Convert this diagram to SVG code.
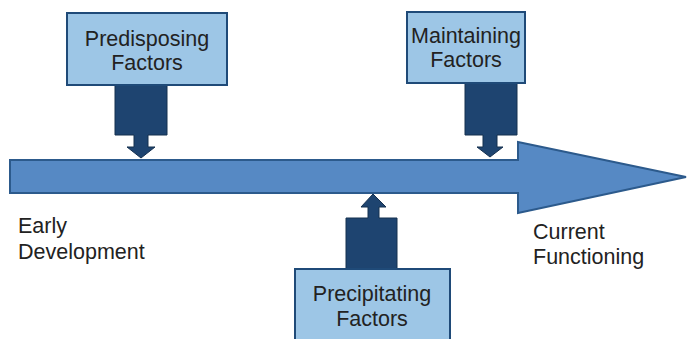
<svg xmlns="http://www.w3.org/2000/svg" width="687" height="339" viewBox="0 0 687 339">
<style>
.box{fill:#9DC6E6;stroke:#1F4A78;stroke-width:2}
.stem{fill:#1E4470;stroke:#15304F;stroke-width:1}
.big{fill:#5689C4;stroke:#2C5A8C;stroke-width:2}
text{font-family:"Liberation Sans",Arial,sans-serif;font-size:21.5px;fill:#222}
.c{text-anchor:middle}
</style>
<g id="timeline">
<polygon class="big" points="10,160 518,160 518,142 686,177 518,213 518,193 10,193"/>
</g>
<g id="connectors">
<polygon class="stem" points="115,85 167,85 167,135 148,135 148,147 155,147 141,158 127,147 134,147 134,135 115,135"/>
<polygon class="stem" points="465,83 517,83 517,135 497,135 497,147 503,147 490,157 477,147 483,147 483,135 465,135"/>
<polygon class="stem" points="346,269 397,269 397,218 379,218 379,207 386,207 373,194 361,207 368,207 368,218 346,218"/>
</g>
<g id="predisposing">
<rect class="box" x="67" y="13" width="160" height="72"/>
<text class="c" x="147" y="46">Predisposing</text>
<text class="c" x="147" y="70">Factors</text>
</g>
<g id="maintaining">
<rect class="box" x="407" y="12" width="118" height="71"/>
<text class="c" x="466" y="43">Maintaining</text>
<text class="c" x="466" y="67">Factors</text>
</g>
<g id="precipitating">
<rect class="box" x="295" y="269" width="155" height="80"/>
<text class="c" x="372" y="301">Precipitating</text>
<text class="c" x="372" y="326">Factors</text>
</g>
<g id="early">
<text x="18" y="233">Early</text>
<text x="18" y="259">Development</text>
</g>
<g id="current">
<text x="533" y="239">Current</text>
<text x="533" y="264">Functioning</text>
</g>
</svg>
